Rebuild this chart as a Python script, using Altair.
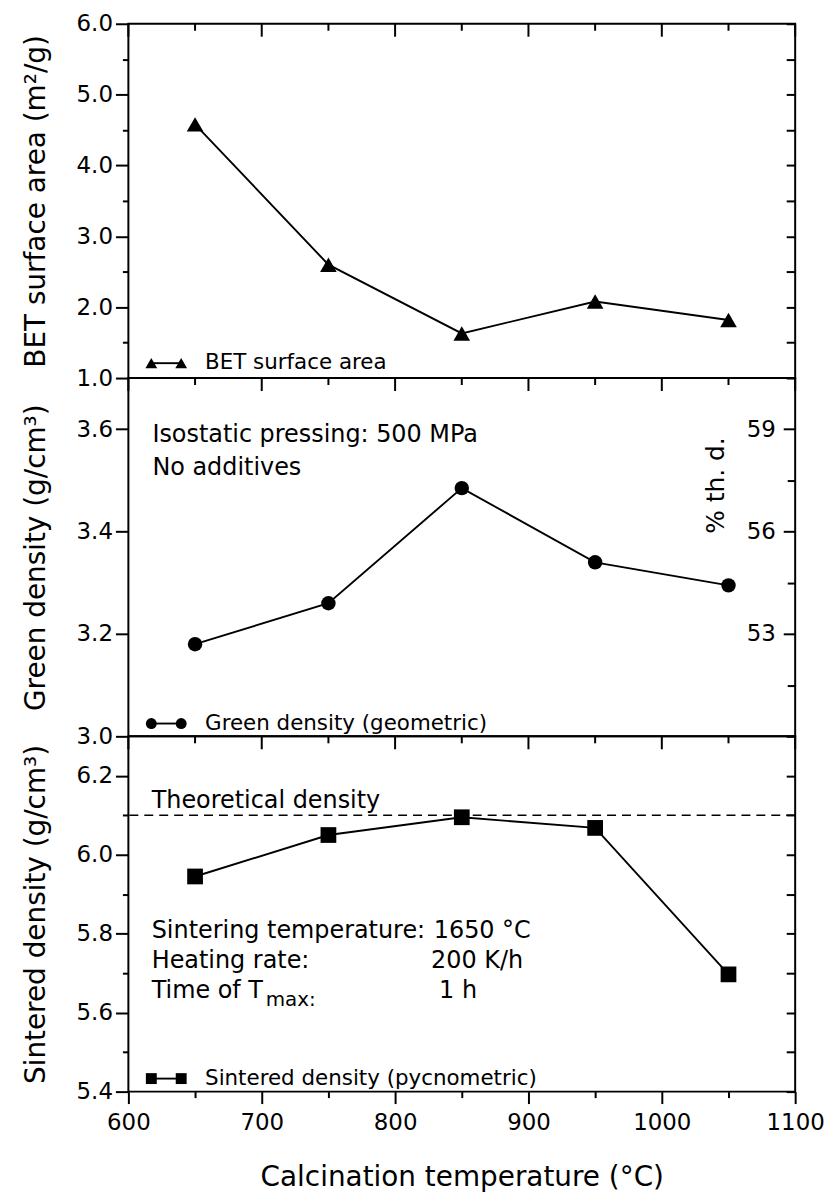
import altair as alt
import pandas as pd

FONT = "DejaVu Sans"

# ---------------- data ----------------
temperature = [650, 750, 850, 950, 1050]
bet_area = [4.58, 2.60, 1.63, 2.08, 1.82]
green_density = [3.18, 3.26, 3.485, 3.34, 3.295]
sintered_density = [5.945, 6.05, 6.095, 6.068, 5.697]
theoretical_density = 6.10

x_major = [600, 700, 800, 900, 1000, 1100]
x_minor = [650, 750, 850, 950, 1050]
bet_major = [1.0, 2.0, 3.0, 4.0, 5.0, 6.0]
bet_minor = [1.5, 2.5, 3.5, 4.5, 5.5]
green_major = [3.0, 3.2, 3.4, 3.6]
pct_major = [53, 56, 59]
pct_minor = [51.5, 54.5, 57.5]
sint_major = [5.4, 5.6, 5.8, 6.0, 6.2]
sint_minor = [5.5, 5.7, 5.9, 6.1]

X_DOMAIN = [600, 1100]
BET_DOMAIN = [1.0, 6.0]
GREEN_DOMAIN = [3.0, 3.7]
PCT_DOMAIN = [50.0, 60.5]
SINT_DOMAIN = [5.4, 6.3]

# legend entries (symbol x positions, text x, y in panel units)
legend_sym_x = [617.2, 639.6]
legend_text_x = 657.5
bet_legend = ("BET surface area", 1.21)
green_legend = ("Green density (geometric)", 3.025)
sint_legend = ("Sintered density (pycnometric)", 5.433)

# annotations
green_notes_text = ["Isostatic pressing: 500 MPa", "No additives"]
green_notes_x = [618.0, 618.0]
green_notes_y = [3.575, 3.510]

sint_notes_text = ["Theoretical density", "Sintering temperature:", "Heating rate:", "Time of T",
                   "1650 °C", "200 K/h", "1 h"]
sint_notes_x = [617.5, 617.5, 617.5, 617.5, 829.0, 827.0, 833.0]
sint_notes_y = [6.118, 5.789, 5.713, 5.638, 5.789, 5.713, 5.638]
sub_text = ["max:"]
sub_x = [703.0]
sub_y = [5.616]

W = 670


def xs():
    return alt.Scale(domain=X_DOMAIN, nice=False, zero=False)


def ys(dom):
    return alt.Scale(domain=dom, nice=False, zero=False)


def tick_axis(orient, values, size, inward=False):
    return alt.Axis(orient=orient, values=values, tickSize=size, offset=(-size if inward else 0),
                    labels=False, domain=False, grid=False, title=None, ticks=True,
                    tickColor="black", tickWidth=2)


def top_ticks(ydom, height):
    # inward ticks hanging from the top border (longer every 100 degC)
    per_px = (ydom[1] - ydom[0]) / height
    rows = []
    for t in x_major:
        rows.append({"T": t, "y1": ydom[1], "y2": ydom[1] - 13 * per_px})
    for t in x_minor:
        rows.append({"T": t, "y1": ydom[1], "y2": ydom[1] - 7 * per_px})
    return alt.Chart(pd.DataFrame(rows)).mark_rule(color="black", strokeWidth=2).encode(
        x=alt.X("T:Q", scale=xs(), axis=None),
        y=alt.Y("y1:Q", scale=ys(ydom), axis=None),
        y2="y2:Q",
    )


def panel(vals, ydom, ymaj, ymin, right_vals, height, shape, size, ytitle, legend,
          leg_size, bottom=False, extras=None):
    df = pd.DataFrame({"T": temperature, "v": vals})
    base = alt.Chart(df)
    if bottom:
        xax_main = alt.Axis(orient="bottom", values=x_major, tickSize=12, labels=True,
                            labelFlush=False, labelOverlap=False, labelPadding=8,
                            labelFontSize=23, format="d", domain=False, grid=False,
                            title="Calcination temperature (°C)", titlePadding=34,
                            minExtent=38, maxExtent=38, tickWidth=2, tickColor="black")
        xax_min = tick_axis("bottom", x_minor, 6)
    else:
        xax_main = None
        xax_min = None
    yax = alt.Axis(orient="left", values=ymaj, tickSize=13, labelPadding=3, format=".1f",
                   labelFontSize=23, labelOverlap=False, domain=False, grid=False,
                   title=ytitle, titlePadding=23, minExtent=55, maxExtent=55,
                   tickWidth=2, tickColor="black")
    line = base.mark_line(color="black", strokeWidth=1.9).encode(
        x=alt.X("T:Q", scale=xs(), axis=xax_main),
        y=alt.Y("v:Q", scale=ys(ydom), axis=yax),
    )
    pts = base.mark_point(filled=True, shape=shape, size=size, color="black", opacity=1).encode(
        x=alt.X("T:Q", scale=xs(), axis=None),
        y=alt.Y("v:Q", scale=ys(ydom), axis=None),
    )
    minor = base.mark_point(opacity=0).encode(
        x=alt.X("T:Q", scale=xs(), axis=xax_min),
        y=alt.Y("v:Q", scale=ys(ydom), axis=(tick_axis("left", ymin, 6) if ymin else None)),
    )
    right = base.mark_point(opacity=0).encode(
        x=alt.X("T:Q", scale=xs(), axis=None),
        y=alt.Y("v:Q", scale=ys(ydom),
                axis=(tick_axis("right", right_vals, 9, inward=True) if right_vals else None)),
    )
    leg_df = pd.DataFrame({"x": legend_sym_x, "y": [legend[1]] * 2})
    leg_line = alt.Chart(leg_df).mark_line(color="black", strokeWidth=1.9).encode(
        x=alt.X("x:Q", scale=xs(), axis=None), y=alt.Y("y:Q", scale=ys(ydom), axis=None))
    leg_pts = alt.Chart(leg_df).mark_point(filled=True, shape=shape, size=leg_size,
                                           color="black", opacity=1).encode(
        x=alt.X("x:Q", scale=xs(), axis=None), y=alt.Y("y:Q", scale=ys(ydom), axis=None))
    leg_txt = alt.Chart(pd.DataFrame({"x": [legend_text_x], "y": [legend[1]], "t": [legend[0]]})
                        ).mark_text(align="left", baseline="middle", font=FONT, fontSize=21.5,
                                    color="black").encode(
        x=alt.X("x:Q", scale=xs(), axis=None), y=alt.Y("y:Q", scale=ys(ydom), axis=None),
        text="t:N")
    layers = [line, pts, minor, right, top_ticks(ydom, height), leg_line, leg_pts,
              leg_txt] + (extras or [])
    return alt.layer(*layers).resolve_scale(y="independent").resolve_axis(
        x="independent", y="independent").properties(width=W, height=height)


def text_layer(xv, yv, tv, ydom, size=24, angle=None, align="left", baseline="alphabetic"):
    kw = dict(align=align, baseline=baseline, font=FONT, fontSize=size, color="black")
    if angle is not None:
        kw["angle"] = angle
    return alt.Chart(pd.DataFrame({"x": xv, "y": yv, "t": tv})).mark_text(**kw).encode(
        x=alt.X("x:Q", scale=xs(), axis=None), y=alt.Y("y:Q", scale=ys(ydom), axis=None),
        text="t:N")


# ---- top panel ----
top = panel(bet_area, BET_DOMAIN, bet_major, bet_minor, bet_major + bet_minor, 356,
            "triangle-up", 280, "BET surface area (m²/g)", bet_legend, 140)

# ---- middle panel ----
pct_df = pd.DataFrame({"p": pct_major})
pct_min_df = pd.DataFrame({"p": pct_minor})
pct_major_layer = alt.Chart(pct_df).mark_point(opacity=0).encode(
    y=alt.Y("p:Q", scale=ys(PCT_DOMAIN),
            axis=alt.Axis(orient="right", values=pct_major, tickSize=12, offset=-12,
                          labels=True, labelAlign="right", labelBaseline="middle",
                          labelPadding=-20, labelFontSize=23, format="d", domain=False,
                          grid=False, title=None, tickWidth=2, tickColor="black")))
pct_minor_layer = alt.Chart(pct_min_df).mark_point(opacity=0).encode(
    y=alt.Y("p:Q", scale=ys(PCT_DOMAIN), axis=tick_axis("right", pct_minor, 8, inward=True)))
green_notes = text_layer(green_notes_x, green_notes_y, green_notes_text, GREEN_DOMAIN)
pct_title = text_layer([1041.0], [3.49], ["% th. d."], GREEN_DOMAIN, size=25, angle=270,
                       align="center", baseline="middle")
mid = panel(green_density, GREEN_DOMAIN, green_major, [], None, 360, "circle", 210,
            "Green density (g/cm³)", green_legend, 120,
            extras=[pct_major_layer, pct_minor_layer, green_notes, pct_title])

# ---- bottom panel ----
theo = alt.Chart(pd.DataFrame({"y": [theoretical_density]})).mark_rule(
    color="black", strokeWidth=1.6, strokeDash=[9, 6]).encode(
    y=alt.Y("y:Q", scale=ys(SINT_DOMAIN), axis=None))
sint_notes = text_layer(sint_notes_x, sint_notes_y, sint_notes_text, SINT_DOMAIN)
sint_sub = text_layer(sub_x, sub_y, sub_text, SINT_DOMAIN, size=20)
bot = panel(sintered_density, SINT_DOMAIN, sint_major, sint_minor, sint_major + sint_minor + [6.3],
            357, "square", 250, "Sintered density (g/cm³)", sint_legend, 120, bottom=True,
            extras=[theo, sint_notes, sint_sub])

chart = alt.vconcat(top, mid, bot, spacing=0, bounds="flush").properties(
    padding={"left": 22, "top": 9, "right": 5, "bottom": 0},
    background="white",
).configure_view(stroke="black", strokeWidth=2).configure_axis(
    labelFont=FONT, titleFont=FONT, labelFontSize=23, titleFontSize=28,
    labelColor="black", titleColor="black", titleFontWeight="normal",
    tickColor="black", tickWidth=2, domain=False, grid=False)

chart.save("out.html", embed_options={"renderer": "svg", "actions": False})
